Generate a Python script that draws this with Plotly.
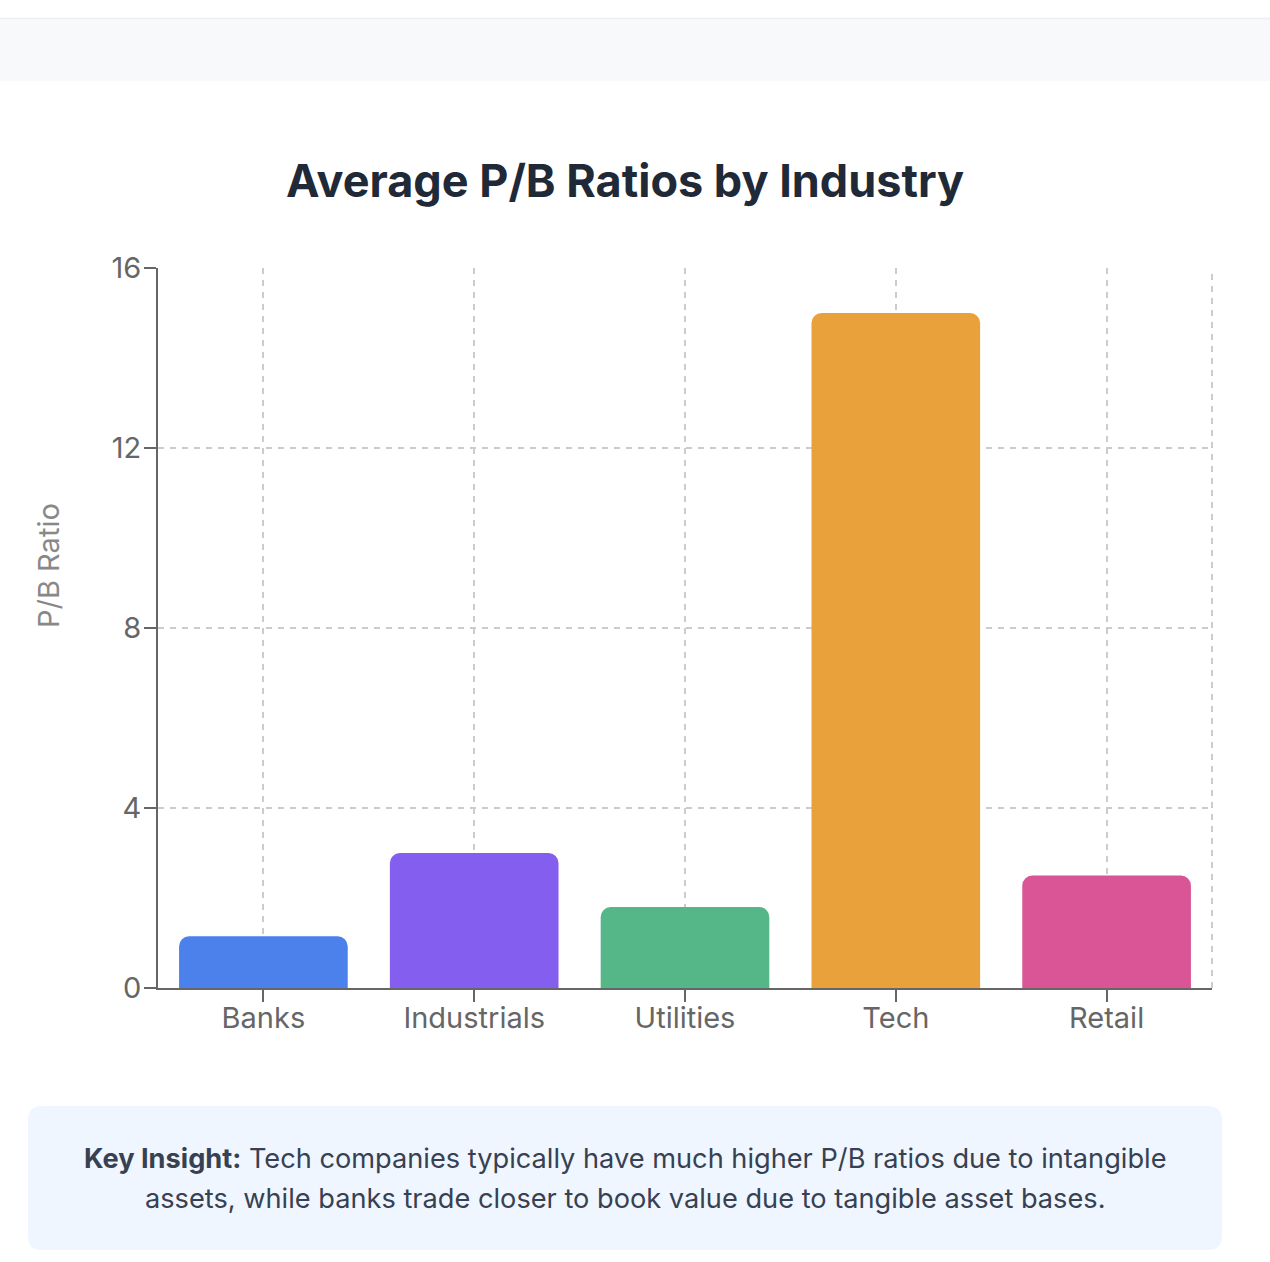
import plotly.graph_objects as go

# ---- data ----
industries = ["Banks", "Industrials", "Utilities", "Tech", "Retail"]
pb_ratios = [1.15, 3.0, 1.8, 15.0, 2.5]
bar_colors = ["#4C80EB", "#845EEF", "#55B787", "#E9A23B", "#D95596"]
y_ticks = [0, 4, 8, 12, 16]

title_text = "Average P/B Ratios by Industry"
y_title = "P/B Ratio"
insight_line1 = "<b>Key Insight:</b> Tech companies typically have much higher P/B ratios due to intangible"
insight_line2 = "assets, while banks trade closer to book value due to tangible asset bases."

# ---- page geometry (pixels) ----
FW, FH = 1270, 1262
L, R, T, B = 158, 1212, 268, 988
PW, PH = R - L, B - T


def px(X):
    return (X - L) / PW


def py(Y):
    return (B - Y) / PH


def rounded_rect(x0, y0, x1, y1, r):
    # pixel coords (y down) -> paper path with rounded corners
    rx, ry = r / PW, r / PH
    X0, X1 = px(x0), px(x1)
    Yt, Yb = py(y0), py(y1)
    return (
        f"M {X0 + rx},{Yt} L {X1 - rx},{Yt} Q {X1},{Yt} {X1},{Yt - ry} "
        f"L {X1},{Yb + ry} Q {X1},{Yb} {X1 - rx},{Yb} "
        f"L {X0 + rx},{Yb} Q {X0},{Yb} {X0},{Yb + ry} "
        f"L {X0},{Yt - ry} Q {X0},{Yt} {X0 + rx},{Yt} Z"
    )


FONT = "Inter, 'Noto Sans', sans-serif"

fig = go.Figure(
    go.Bar(
        x=industries,
        y=pb_ratios,
        marker=dict(color=bar_colors, line=dict(width=0), cornerradius=10),
        hoverinfo="x+y",
    )
)

shapes = [
    # header band
    dict(type="rect", xref="paper", yref="paper", x0=px(0), x1=px(FW), y0=py(81), y1=py(18),
         fillcolor="#F8F9FB", line=dict(width=0), layer="below"),
    dict(type="line", xref="paper", yref="paper", x0=px(0), x1=px(FW), y0=py(18.5), y1=py(18.5),
         line=dict(color="#EDEFF2", width=1.5), layer="below"),
    # insight box
    dict(type="path", xref="paper", yref="paper", path=rounded_rect(28, 1106, 1222, 1250, 14),
         fillcolor="#EFF6FF", line=dict(width=0), layer="below"),
    # right edge dashed grid line
    dict(type="line", xref="paper", yref="paper", x0=1, x1=1, y0=0, y1=1,
         line=dict(color="#CCCCCC", width=2, dash="6px,6px"), layer="below"),
]

annotations = [
    dict(text=y_title, xref="paper", yref="paper", x=px(48), y=py(566), textangle=-90,
         showarrow=False, font=dict(family=FONT, size=29, color="#888888"),
         xanchor="center", yanchor="middle"),
    dict(text=insight_line1, xref="paper", yref="paper", x=px(625), y=py(1158),
         showarrow=False, font=dict(family=FONT, size=27.2, color="#374151"),
         xanchor="center", yanchor="middle"),
    dict(text=insight_line2, xref="paper", yref="paper", x=px(625), y=py(1198),
         showarrow=False, font=dict(family=FONT, size=27.2, color="#374151"),
         xanchor="center", yanchor="middle"),
]

fig.update_layout(
    width=FW,
    height=FH,
    autosize=False,
    margin=dict(l=L, r=FW - R, t=T, b=FH - B, pad=0),
    paper_bgcolor="#FFFFFF",
    plot_bgcolor="#FFFFFF",
    bargap=0.2,
    showlegend=False,
    title=dict(text=f"<b>{title_text}</b>", x=625 / FW, xanchor="center",
               xref="container", y=1 - 181 / FH, yref="container",
               yanchor="middle", font=dict(family=FONT, size=45, color="#1F2937")),
    shapes=shapes,
    annotations=annotations,
    font=dict(family=FONT),
)

fig.update_xaxes(
    type="category",
    showline=True, linecolor="#666666", linewidth=2,
    ticks="outside", ticklen=12, tickwidth=2, tickcolor="#666666",
    tickfont=dict(family=FONT, size=29, color="#666666"),
    ticklabelstandoff=-9,
    showgrid=True, gridcolor="#CCCCCC", gridwidth=2, griddash="6px,6px",
    zeroline=False, fixedrange=True,
)

fig.update_yaxes(
    range=[0, 16], tickvals=y_ticks,
    showline=True, linecolor="#666666", linewidth=2,
    ticks="outside", ticklen=12, tickwidth=2, tickcolor="#666666",
    tickfont=dict(family=FONT, size=29, color="#666666"),
    ticklabelstandoff=-3,
    showgrid=True, gridcolor="#CCCCCC", gridwidth=2, griddash="6px,6px",
    zeroline=False, fixedrange=True,
)

fig.write_html(
    "out.html",
    config={"displayModeBar": False},
    post_script="document.body.style.margin='0';document.body.style.overflow='hidden';",
)
